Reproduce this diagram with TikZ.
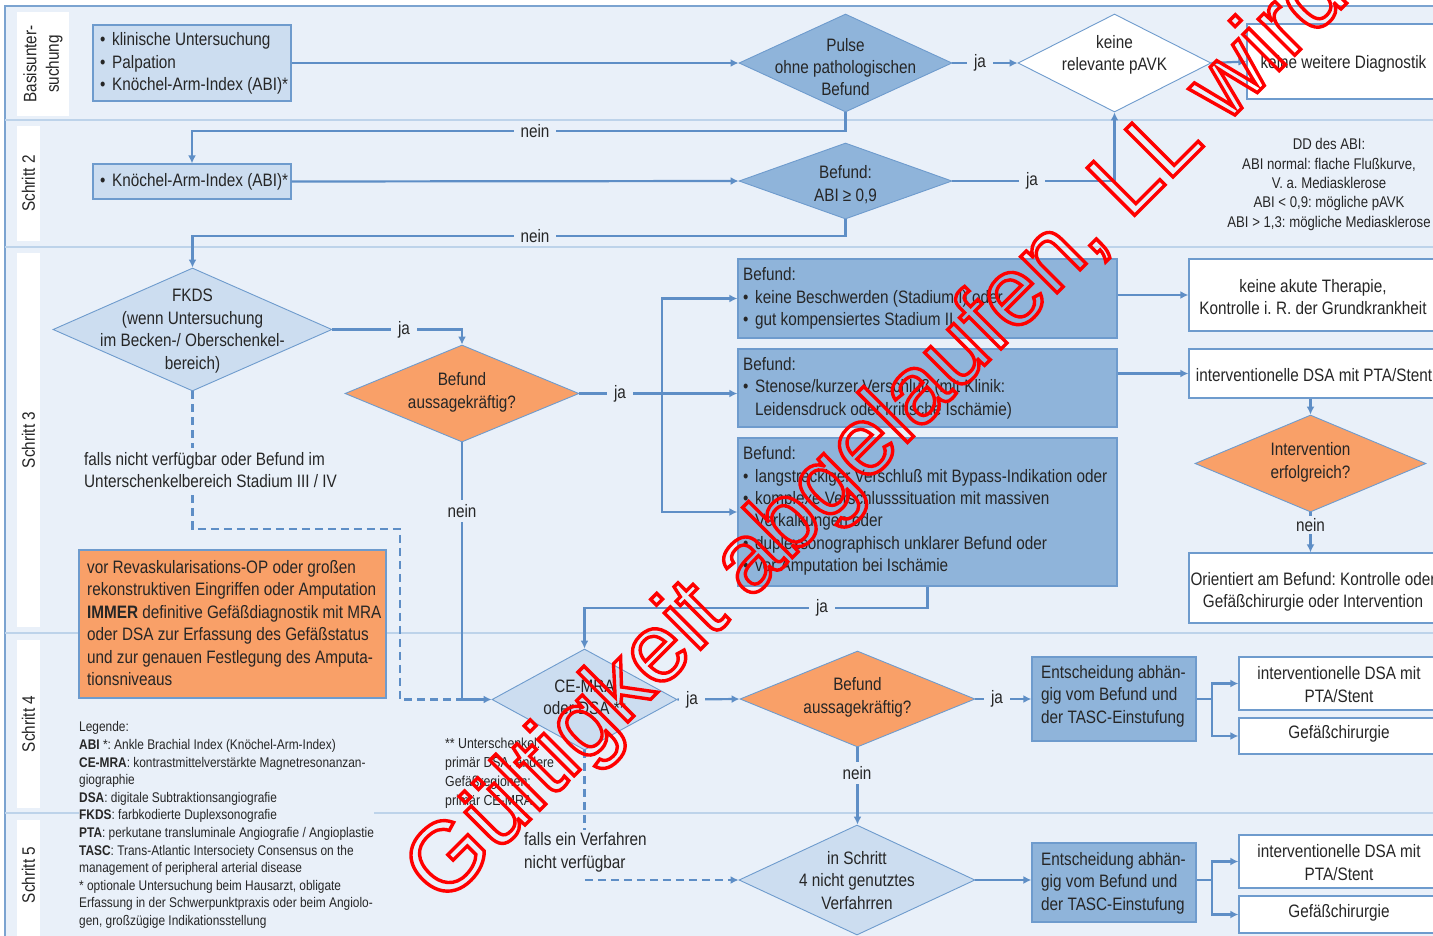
\documentclass[tikz,border=0pt]{standalone}
\usepackage{fontspec}
\setmainfont{Liberation Sans}[FakeStretch=0.85]
\newfontfamily\wmfont{Liberation Sans}
\usetikzlibrary{arrows.meta,shapes.geometric,calc}
\definecolor{bg}{HTML}{E9F0F9}
\definecolor{framec}{HTML}{7BA3D0}
\definecolor{band}{HTML}{BDD3EA}
\definecolor{lightf}{HTML}{CCDDF0}
\definecolor{midf}{HTML}{8FB4DA}
\definecolor{oran}{HTML}{F9A068}
\definecolor{conn}{HTML}{5E8EC6}
\definecolor{bord}{HTML}{6E9BCD}
\definecolor{txt}{HTML}{262626}
\newcommand\fm{\fontsize{18}{22.4}\selectfont\frenchspacing}
\newcommand\fs{\fontsize{14}{17.6}\selectfont\frenchspacing}
\newcommand\fdd{\fontsize{15.5}{19.4}\selectfont\frenchspacing}
\newcommand\fu{\fontsize{14.5}{19}\selectfont\frenchspacing}
\newcommand\bul{\makebox[12pt][l]{•}}
\newcommand\ind{\hspace*{12pt}}
\begin{document}
\frenchspacing
\begin{tikzpicture}[x=1pt,y=-1pt,
  every node/.style={text=txt, font=\fm},
  box/.style={draw=bord, line width=1.3pt, inner sep=0pt},
  lbox/.style={box, fill=lightf},
  mbox/.style={box, fill=midf},
  wbox/.style={box, fill=white},
  obox/.style={box, fill=oran},
  dia/.style={diamond, draw=bord, line width=0.9pt, inner sep=0pt},
  tx/.style={inner sep=0pt, align=center},
  tl/.style={inner sep=0pt, align=left, anchor=west},
  conn/.style={draw=conn, line width=2.2pt},
  arr/.style={conn, -{Latex[length=8pt,width=8pt]}},
  dsh/.style={conn, dash pattern=on 8pt off 5pt},
  lbl/.style={fill=bg, inner xsep=7pt, inner ysep=2pt},
  steplbl/.style={fill=white, inner sep=0pt, rotate=90, align=center},
]
\useasboundingbox (0,0) rectangle (1433,935);
\fill[white] (0,0) rectangle (1433,935);
\draw[fill=bg, draw=framec, line width=1.5pt] (5,6) rectangle (1445,945);
\foreach \yy in {120,247,633,813} \draw[band, line width=1.5pt] (5,\yy) -- (1433,\yy);

% step labels
\node[steplbl, minimum width=104, minimum height=52] (s1) at (43,64) {Basisunter-\\suchung};
\node[steplbl, minimum width=115, minimum height=23] (s2) at (28.5,183.5) {Schritt 2};
\node[steplbl, minimum width=374, minimum height=23] (s3) at (28.5,440) {Schritt 3};
\node[steplbl, minimum width=168, minimum height=23] (s4) at (28.5,724) {Schritt 4};
\node[steplbl, minimum width=125, minimum height=23] (s5) at (28.5,882.5) {};
\node[rotate=90, inner sep=0pt] (s5t) at (28.5,875) {Schritt 5};

% shapes
\node[lbox, minimum width=198, minimum height=76] (b1) at (192,63) {};
\node[lbox, minimum width=198, minimum height=35] (b2) at (192,181.5) {};
\node[dia, fill=midf, minimum width=213, minimum height=98] (d1) at (845.5,63) {};
\node[dia, fill=white, minimum width=193, minimum height=98] (wd) at (1114.5,63) {};
\node[wbox, minimum width=190, minimum height=75] (kwd) at (1342,61.5) {};
\node[dia, fill=midf, minimum width=213, minimum height=76] (d2) at (845.5,181) {};
\node[dia, fill=lightf, minimum width=279, minimum height=123] (fk) at (192.5,329.5) {};
\node[dia, fill=oran, minimum width=234, minimum height=97] (o1) at (462,393.5) {};
\node[mbox, minimum width=379, minimum height=79] (A) at (927.5,298.5) {};
\node[mbox, minimum width=379, minimum height=78] (B) at (927.5,388) {};
\node[mbox, minimum width=379, minimum height=148] (C) at (927.5,512) {};
\node[wbox, minimum width=247, minimum height=72] (wa) at (1312.5,295) {};
\node[wbox, minimum width=247, minimum height=49] (wb) at (1312.5,373.5) {};
\node[dia, fill=oran, minimum width=231, minimum height=97] (o2) at (1310.5,463.5) {};
\node[wbox, minimum width=247, minimum height=70] (wc) at (1312.5,588) {};
\node[obox, minimum width=307, minimum height=148] (nb) at (232.5,624) {};
\node[dia, fill=lightf, minimum width=185, minimum height=101] (ce) at (584.5,699.5) {};
\node[dia, fill=oran, minimum width=235, minimum height=96] (o3) at (857.5,699) {};
\node[mbox, minimum width=164, minimum height=84] (e1) at (1114,699) {};
\node[wbox, minimum width=197, minimum height=53] (wd1) at (1337.5,683.5) {};
\node[wbox, minimum width=197, minimum height=36] (wd2) at (1337.5,736) {};
\node[dia, fill=lightf, minimum width=236, minimum height=110] (d5) at (857,880) {};
\node[mbox, minimum width=164, minimum height=79] (e2) at (1114,882.5) {};
\node[wbox, minimum width=197, minimum height=53] (we1) at (1337.5,861.5) {};
\node[wbox, minimum width=197, minimum height=37] (we2) at (1337.5,914.5) {};

% coordinates
\coordinate (n1) at (192,131);
\coordinate (j2) at (1114.5,181);
\coordinate (n2) at (192.5,236);
\coordinate (j3) at (462,329.5);
\coordinate (j4) at (662,393.5);
\coordinate (j5) at (584.5,608);
\coordinate (q1) at (192.5,529);
\coordinate (q2) at (400,529);
\coordinate (q3) at (400,699.5);
\coordinate (q4) at (462,699.5);
\coordinate (q5) at (584.5,880);
\coordinate (br1) at (1212,699);
\coordinate (br2) at (1212,880);

% connectors
\draw[arr] (b1.east) -- (d1.west);
\draw[arr] (d1.east) -- (wd.west);
\draw[arr] (wd.east) -- (kwd.west);
\draw[arr] (d1.south) |- (n1) -- (b2.north);
\draw[arr] (b2.east) -- (d2.west);
\draw[arr] (d2.east) -- (j2) -- (wd.south);
\draw[arr] (d2.south) |- (n2) -- (fk.north);
\draw[arr] (fk.east) -- (j3) -- (o1.north);
\draw[conn] (o1.east) -- (j4);
\draw[arr] (j4) |- (A.west);
\draw[arr] (j4) -- (B.west |- j4);
\draw[arr] (j4) |- (C.west);
\draw[arr] (A.east |- wa.west) -- (wa.west);
\draw[arr] (B.east |- wb.west) -- (wb.west);
\draw[arr] (o2.north |- wb.south) -- (o2.north);
\draw[arr] (o2.south) -- (o2.south |- wc.north);
\draw[arr] (C.south) |- (j5) -- (ce.north);
\draw[arr] (o1.south) |- (ce.west);
\draw[dsh] (fk.south) -- (q1) -- (q2) -- (q3) -- (q4);
\draw[arr] (ce.east) -- (o3.west);
\draw[arr] (o3.east) -- (e1.west);
\draw[conn] (e1.east) -- (br1);
\draw[arr] (br1) |- (wd1.west);
\draw[arr] (br1) |- (wd2.west);
\draw[arr] (o3.south) -- (o3.south |- d5.north);
\draw[dsh, -{Latex[length=8pt,width=8pt]}] (ce.south) -- (q5) -- (d5.west);
\draw[arr] (d5.east) -- (d5.east -| e2.west);
\draw[conn] (e2.east |- br2) -- (br2);
\draw[arr] (br2) |- (we1.west);
\draw[arr] (br2) |- (we2.west);

% connector labels
\node[lbl] (l1) at (980,63) {ja};
\node[lbl] (l2) at (535,131) {nein};
\node[lbl] (l3) at (1032,181) {ja};
\node[lbl] (l4) at (535,236) {nein};
\node[lbl] (l5) at (404,329.5) {ja};
\node[lbl] (l6) at (620,393.5) {ja};
\node[lbl, inner ysep=4pt] (l7) at (462,511) {nein};
\node[lbl] (l8) at (1310.5,525) {nein};
\node[lbl] (l9) at (822,608) {ja};
\node[lbl] (l10) at (692,699.5) {ja};
\node[lbl] (l11) at (997,699) {ja};
\node[lbl, inner ysep=4pt] (l12) at (857,773) {nein};

% texts
\node[tl] (b1t) at (100,63.5) {\bul klinische Untersuchung\\\bul Palpation\\\bul Knöchel-Arm-Index (ABI)*};
\node[tl] (b2t) at (100,181.5) {\bul Knöchel-Arm-Index (ABI)*};
\node[tx] (d1t) at (845.5,67) {Pulse\\ohne pathologischen\\Befund};
\node[tx] (wdt) at (1114.5,55) {keine\\relevante pAVK};
\node[tx] (kwdt) at (1343.5,63.5) {keine weitere Diagnostik};
\node[tx] (d2t) at (845.5,184.5) {Befund:\\ABI ≥ 0,9};
\node[tx, font=\fdd] (dd) at (1329,184.5) {DD des ABI:\\ABI normal: flache Flußkurve,\\V. a. Mediasklerose\\ABI < 0,9: mögliche pAVK\\ABI > 1,3: mögliche Mediasklerose};
\node[tx] (fkt) at (192.5,331) {FKDS\\(wenn Untersuchung\\im Becken-/ Oberschenkel-\\bereich)};
\node[tx] (o1t) at (462,392.5) {Befund\\aussagekräftig?};
\node[tl] (At) at (743,298.5) {Befund:\\\bul keine Beschwerden (Stadium I) oder\\\bul gut kompensiertes Stadium II};
\node[tl] (Bt) at (743,388) {Befund:\\\bul Stenose/kurzer Verschluß (mit Klinik:\\\ind Leidensdruck oder kritische Ischämie)};
\node[tl] (Ct) at (743,511) {Befund:\\\bul langstreckiger Verschluß mit Bypass-Indikation oder\\\bul komplexe Verschlusssituation mit massiven\\\ind Verkalkungen oder\\\bul duplexsonographisch unklarer Befund oder\\\bul vor Amputation bei Ischämie};
\node[tx] (wat) at (1313,297) {keine akute Therapie,\\Kontrolle i. R. der Grundkrankheit};
\node[tx] (wbt) at (1314,375.5) {interventionelle DSA mit PTA/Stent};
\node[tx] (o2t) at (1310.5,462.5) {Intervention\\erfolgreich?};
\node[tx] (wct) at (1313,592) {Orientiert am Befund: Kontrolle oder\\Gefäßchirurgie oder Intervention};
\node[tl] (nbt) at (87,623) {vor Revaskularisations-OP oder großen\\rekonstruktiven Eingriffen oder Amputation\\\textbf{IMMER} definitive Gefäßdiagnostik mit MRA\\oder DSA zur Erfassung des Gefäßstatus\\und zur genauen Festlegung des Amputa-\\tionsniveaus};
\node[tl, fill=bg, inner ysep=4pt] (fn) at (84,470) {falls nicht verfügbar oder Befund im\\Unterschenkelbereich Stadium III / IV};
\node[tx] (cet) at (584.5,697) {CE-MRA\\oder DSA **};
\node[tx] (o3t) at (857.5,697.5) {Befund\\aussagekräftig?};
\node[tl] (e1t) at (1041,696) {Entscheidung abhän-\\gig vom Befund und\\der TASC-Einstufung};
\node[tx] (wd1t) at (1339,684.5) {interventionelle DSA mit\\PTA/Stent};
\node[tx] (wd2t) at (1339,734) {Gefäßchirurgie};
\node[tl, font=\fu] (ust) at (445,773) {** Unterschenkel:\\primär DSA, andere\\Gefäßregionen:\\primär CE-MRA};
\node[tl, fill=bg, inner ysep=3pt] (fev) at (524,852.5) {falls ein Verfahren\\nicht verfügbar};
\node[tx] (d5t) at (857,880.5) {in Schritt\\4 nicht genutztes\\Verfahrren};
\node[tl] (e2t) at (1041,883) {Entscheidung abhän-\\gig vom Befund und\\der TASC-Einstufung};
\node[tx] (we1t) at (1339,862.5) {interventionelle DSA mit\\PTA/Stent};
\node[tx] (we2t) at (1339,913) {Gefäßchirurgie};
\node[tl, font=\fs, fill=bg] (leg) at (79,825) {Legende:\\\textbf{ABI} *: Ankle Brachial Index (Knöchel-Arm-Index)\\\textbf{CE-MRA}: kontrastmittelverstärkte Magnetresonanzan-\\giographie\\\textbf{DSA}: digitale Subtraktionsangiografie\\\textbf{FKDS}: farbkodierte Duplexsonografie\\\textbf{PTA}: perkutane transluminale Angiografie / Angioplastie\\\textbf{TASC}: Trans-Atlantic Intersociety Consensus on the\\management of peripheral arterial disease\\* optionale Untersuchung beim Hausarzt, obligate\\Erfassung in der Schwerpunktpraxis oder beim Angiolo-\\gen, großzügige Indikationsstellung};

% watermark
\node[rotate=45, anchor=base west, inner sep=0pt, text=red, font=\wmfont\fontsize{97.5}{97.5}\selectfont] (wm) at (443,907) {\special{pdf:literal direct 1 Tr 3.4 w}Gültigkeit abgelaufen, LL wird\special{pdf:literal direct 0 Tr}};
\end{tikzpicture}
\end{document}
